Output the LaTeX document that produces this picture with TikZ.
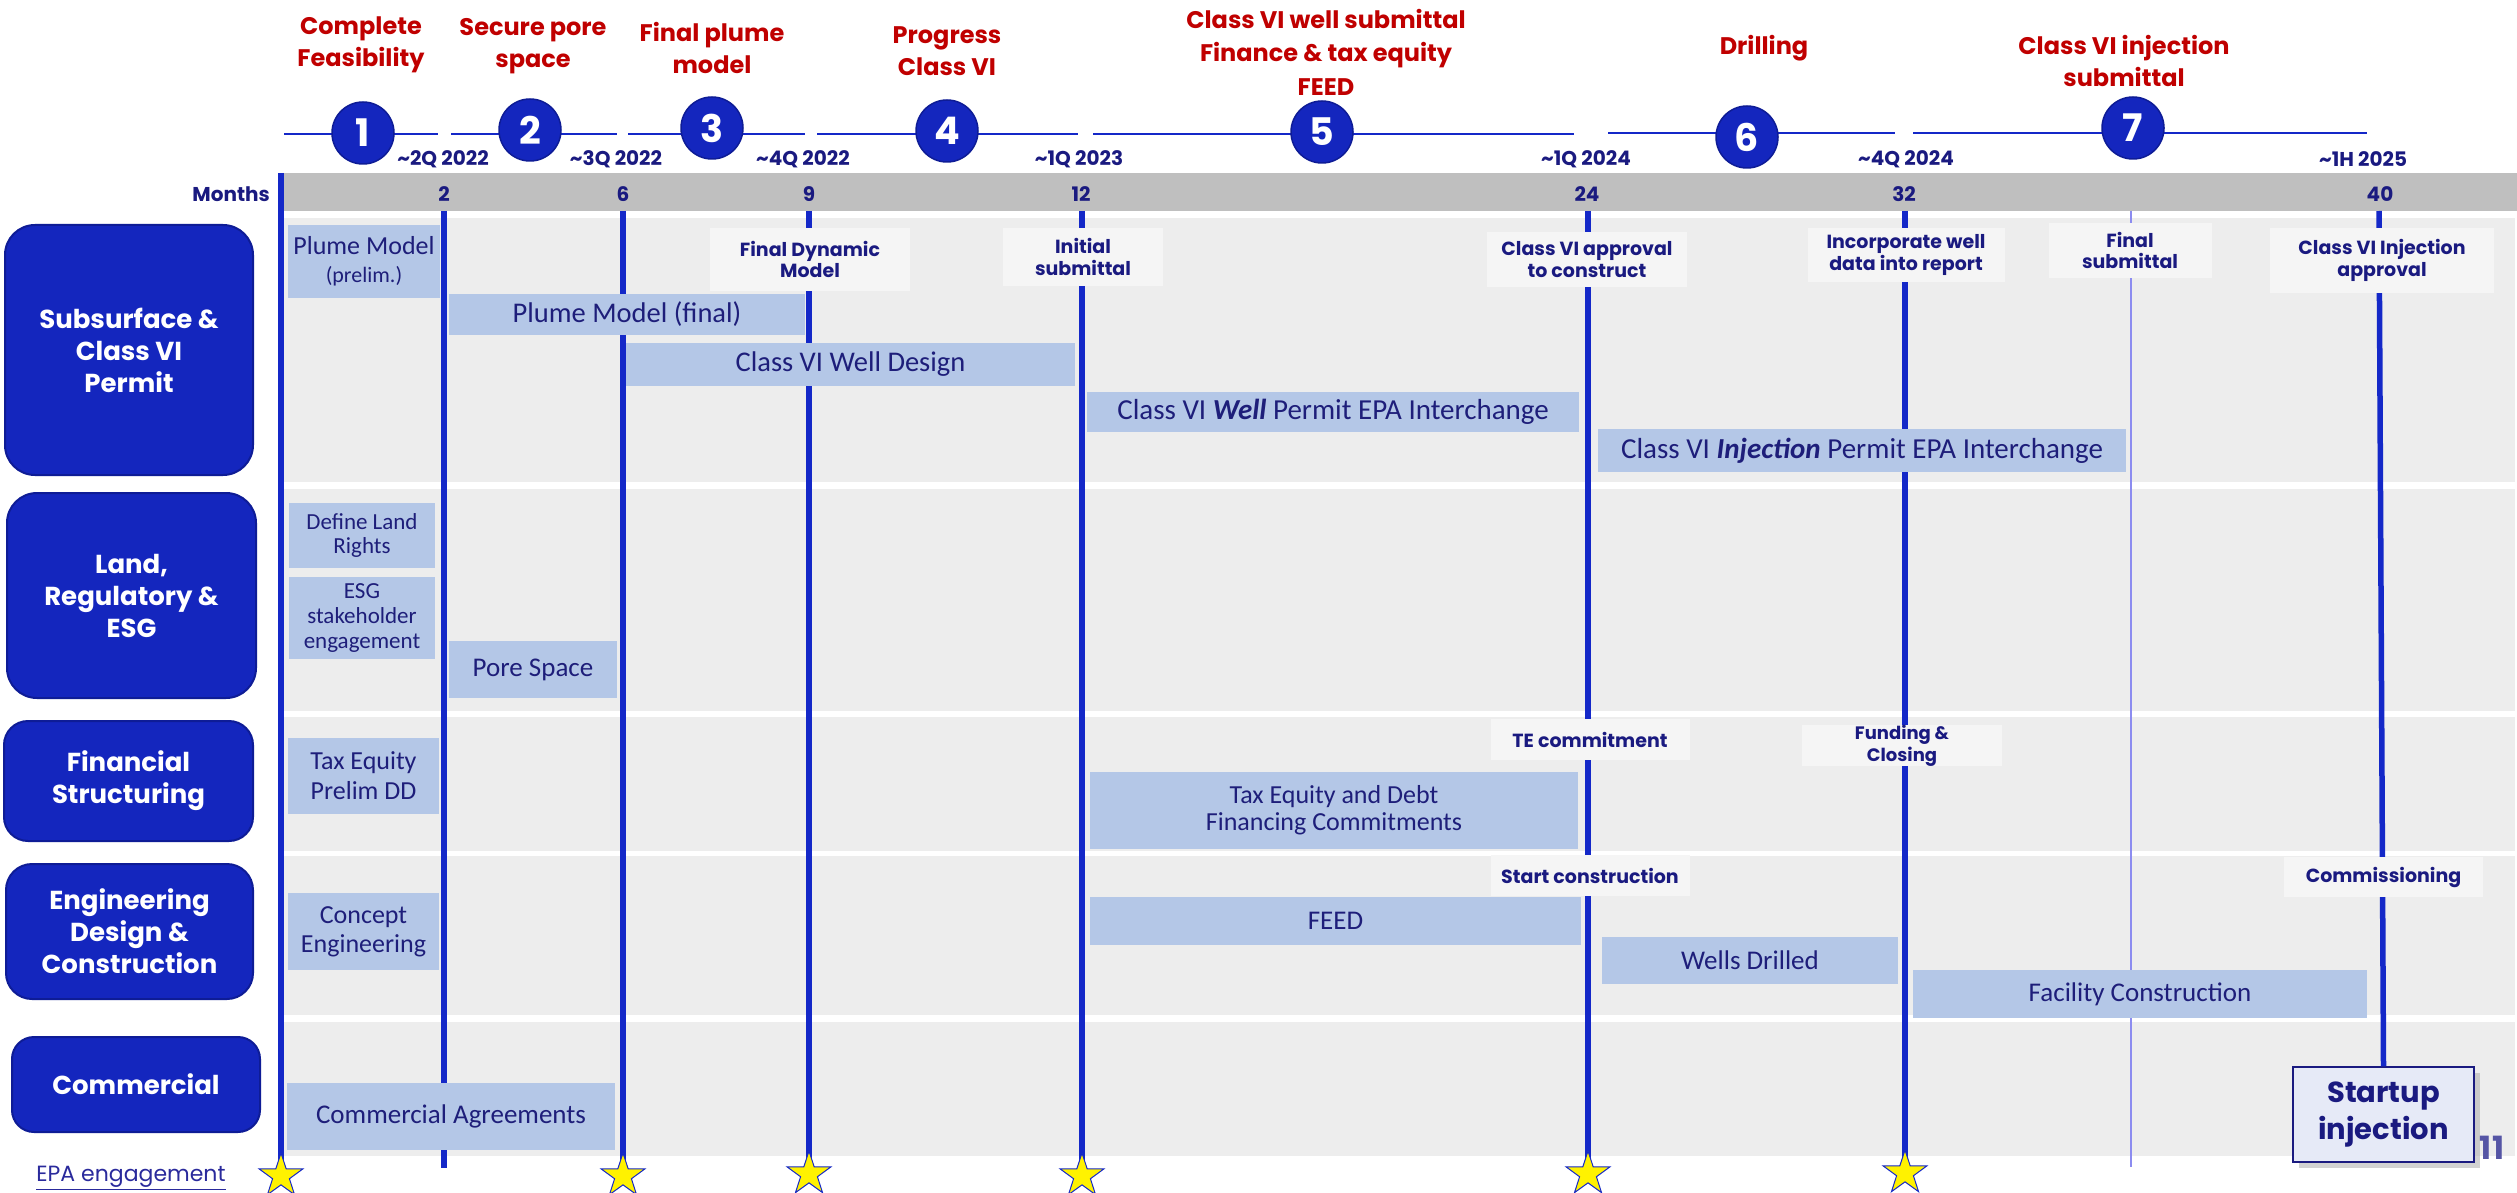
\documentclass[tikz,border=0pt]{standalone}
\usepackage{fontspec}
\setmainfont{Poppins}
\newfontfamily\barfont{Carlito}
\newfontfamily\lblfont{Poppins}
\usetikzlibrary{shapes.geometric,shadows}
\definecolor{lblblue}{HTML}{1426BE}
\definecolor{lblborder}{HTML}{0E1C96}
\definecolor{vline}{HTML}{1428C8}
\definecolor{barfill}{HTML}{B4C7E7}
\definecolor{bartext}{HTML}{1E1E7A}
\definecolor{navy}{HTML}{1A1A80}
\definecolor{rowbg}{HTML}{EDEDED}
\definecolor{msbg}{HTML}{F5F5F5}
\definecolor{bandgray}{HTML}{BFBFBF}
\definecolor{redt}{HTML}{C00000}
\definecolor{thinl}{HTML}{8C8CF0}
\definecolor{startfill}{HTML}{E6EAF7}
\definecolor{epablue}{HTML}{2A2A9C}
\definecolor{pagenum}{HTML}{5555A5}
\newcommand{\myfs}[2]{\fontsize{#1}{#2}\selectfont}
\begin{document}
\begin{tikzpicture}[x=1pt,y=-1pt,
  rowlbl/.style={draw=lblborder, line width=2pt, fill=lblblue, text=white, font=\lblfont\bfseries\myfs{26}{32}, align=center, inner sep=0pt, rounded corners=30pt},
  bar/.style={fill=barfill, text=bartext, font=\barfont\myfs{27}{28}, align=center, inner sep=0pt},
  ms/.style={fill=msbg, text=navy, font=\lblfont\bfseries\myfs{19}{21.5}, align=center, inner sep=0pt},
  ttl/.style={text=redt, font=\lblfont\bfseries\myfs{24}{32}, align=center, inner sep=0pt},
  numc/.style={circle, fill=lblblue, draw=lblborder, line width=1.5pt, minimum size=62pt, inner sep=0pt, text=white, font=\lblfont\bfseries\myfs{38}{38}},
  datel/.style={text=navy, font=\lblfont\bfseries\myfs{20}{20}, inner sep=0pt},
  mnum/.style={text=navy, font=\lblfont\bfseries\myfs{20}{20}, inner sep=0pt},
  vl/.style={draw=vline, line width=5.5pt},
  tl/.style={draw=vline, line width=2.5pt},
  mstar/.style={star, star points=5, star point ratio=2.6, fill=yellow, draw=vline, line width=1pt, minimum size=46pt, inner sep=0pt}
]
\useasboundingbox (0,0) rectangle (2517,1193);
\fill[white] (0,0) rectangle (2517,1193);

% row backgrounds and band
\fill[bandgray] (282,173) rectangle (2517,211);
\fill[rowbg] (284,218) rectangle (2515,482);
\fill[rowbg] (284,489) rectangle (2515,711);
\fill[rowbg] (284,717) rectangle (2515,851);
\fill[rowbg] (284,856) rectangle (2515,1015);
\fill[rowbg] (284,1022) rectangle (2515,1156);

% row labels
\node[rowlbl, minimum width=248pt, minimum height=250pt] (r1) at (129,350) {Subsurface \&\\Class VI\\Permit};
\node[rowlbl, minimum width=249pt, minimum height=205pt] (r2) at (131.5,595.5) {Land,\\Regulatory \&\\ESG};
\node[rowlbl, minimum width=249pt, minimum height=120pt, rounded corners=24pt] (r3) at (128.5,781) {Financial\\Structuring};
\node[rowlbl, minimum width=247pt, minimum height=135pt, rounded corners=26pt] (r4) at (129.5,931.5) {Engineering\\Design \&\\Construction};
\node[rowlbl, minimum width=248pt, minimum height=95pt, rounded corners=22pt] (r5) at (136,1084.5) {Commercial};

% top timeline segments
\coordinate (s1a) at (284,134); \coordinate (s1b) at (438,134);
\coordinate (s2a) at (451,134); \coordinate (s2b) at (617,134);
\coordinate (s3a) at (628,134); \coordinate (s3b) at (805,134);
\coordinate (s4a) at (817,134); \coordinate (s4b) at (1078,134);
\coordinate (s5a) at (1093,134); \coordinate (s5b) at (1574,134);
\coordinate (s6a) at (1608,133); \coordinate (s6b) at (1895,133);
\coordinate (s7a) at (1913,133); \coordinate (s7b) at (2367,133);
\draw[tl] (s1a) -- (s1b);
\draw[tl] (s2a) -- (s2b);
\draw[tl] (s3a) -- (s3b);
\draw[tl] (s4a) -- (s4b);
\draw[tl] (s5a) -- (s5b);
\draw[tl] (s6a) -- (s6b);
\draw[tl] (s7a) -- (s7b);
\node[numc] (c1) at (363,133) {1};
\node[numc] (c2) at (530,130) {2};
\node[numc] (c3) at (712,128) {3};
\node[numc] (c4) at (947,131) {4};
\node[numc] (c5) at (1322,132) {5};
\node[numc] (c6) at (1747,137) {6};
\node[numc] (c7) at (2133,128) {7};

% red titles
\node[ttl] (t1) at (361,45) {Complete\\Feasibility};
\node[ttl] (t2) at (533,46) {Secure pore\\space};
\node[ttl] (t3) at (712,48) {Final plume\\model};
\node[ttl] (t4) at (947,51) {Progress\\Class VI};
\node[ttl, font=\lblfont\bfseries\myfs{24}{33.5}] (t5) at (1326,52) {Class VI well submittal\\Finance \& tax equity\\FEED};
\node[ttl] (t6) at (1764,48) {Drilling};
\node[ttl] (t7) at (2124,61) {Class VI injection\\submittal};

% dates
\node[datel] (d1) at (443,159) {\textasciitilde 2Q 2022};
\node[datel] (d2) at (616,159) {\textasciitilde 3Q 2022};
\node[datel] (d3) at (803,159) {\textasciitilde 4Q 2022};
\node[datel] (d4) at (1079,159) {\textasciitilde 1Q 2023};
\node[datel] (d5) at (1586,159) {\textasciitilde 1Q 2024};
\node[datel] (d6) at (1906,159) {\textasciitilde 4Q 2024};
\node[datel] (d7) at (2363,159) {\textasciitilde 1H 2025};

% months band
\node[mnum, anchor=east] (mo) at (270,194) {Months};
\node[mnum] (n2) at (444,194) {2};
\node[mnum] (n6) at (623,194) {6};
\node[mnum] (n9) at (809,194) {9};
\node[mnum] (n12) at (1081,194) {12};
\node[mnum] (n24) at (1587,194) {24};
\node[mnum] (n32) at (1904,194) {32};
\node[mnum] (n40) at (2380,194) {40};

% line ends
\coordinate (v0t) at (281,173);
\coordinate (v2t) at (444,211); \coordinate (v2b) at (444,1168);
\coordinate (v6t) at (623,211);
\coordinate (v9t) at (809,211);
\coordinate (v12t) at (1082,211);
\coordinate (v24t) at (1588,211);
\coordinate (v32t) at (1905,211);
\coordinate (vtt) at (2131,211); \coordinate (vtb) at (2131,1167);
\coordinate (v40t) at (2379,211);

% startup box
\node[draw=navy, line width=1.5pt, fill=startfill, drop shadow={shadow xshift=6pt, shadow yshift=-6pt, fill=black!35}, minimum width=181pt, minimum height=95pt, inner sep=0pt, text=navy, font=\lblfont\bfseries\myfs{29}{37}, align=center] (su) at (2383.5,1114.5) {Startup\\injection};

% vertical lines (behind bars)
\coordinate (st0c) at (281,1176);
\coordinate (st6c) at (623,1176);
\coordinate (st9c) at (809,1174);
\coordinate (st12c) at (1082,1176);
\coordinate (st24c) at (1588,1174);
\coordinate (st32c) at (1905,1173);
\draw[vl] (v0t) -- (st0c);
\draw[vl] (v2t) -- (v2b);
\draw[vl] (v6t) -- (st6c);
\draw[vl] (v9t) -- (st9c);
\draw[vl] (v12t) -- (st12c);
\draw[vl] (v24t) -- (st24c);
\draw[vl] (v32t) -- (st32c);
\draw[thinl, line width=1.3pt] (vtt) -- (vtb);
\draw[vl] (v40t) -- (su.north);

% stars
\node[mstar] (st0) at (st0c) {};
\node[mstar] (st6) at (st6c) {};
\node[mstar] (st9) at (st9c) {};
\node[mstar] (st12) at (st12c) {};
\node[mstar] (st24) at (st24c) {};
\node[mstar] (st32) at (st32c) {};

% Row 1 bars
\node[bar, minimum width=152pt, minimum height=73pt] (b1) at (364,261.5) {{\myfs{26}{28}Plume Model}\\{\myfs{22}{28}(prelim.)}};
\node[bar, minimum width=356pt, minimum height=41pt, font=\barfont\myfs{28.5}{30}] (b2) at (627,314.5) {Plume Model (final)};
\node[bar, minimum width=449pt, minimum height=43pt, font=\barfont\myfs{28.5}{30}] (b3) at (850.5,364.5) {Class VI Well Design};
\node[bar, minimum width=492pt, minimum height=40pt, font=\barfont\myfs{29}{30}] (b4) at (1333,412) {Class VI \textbf{\textit{Well}} Permit EPA Interchange};
\node[bar, minimum width=528pt, minimum height=43pt, font=\barfont\myfs{29}{30}] (b5) at (1862,450.5) {Class VI \textbf{\textit{Injection}} Permit EPA Interchange};

% Row 1 milestones
\node[ms, minimum width=200pt, minimum height=63pt] (m1) at (810,259.5) {Final Dynamic\\Model};
\node[ms, minimum width=160pt, minimum height=58pt] (m2) at (1083,257) {Initial\\submittal};
\node[ms, minimum width=200pt, minimum height=55pt] (m3) at (1587,259.5) {Class VI approval\\to construct};
\node[ms, minimum width=197pt, minimum height=54pt] (m4) at (1906,255) {Incorporate well\\data into report};
\node[ms, minimum width=163pt, minimum height=55pt] (m5) at (2130,250.5) {Final\\submittal};
\node[ms, minimum width=224pt, minimum height=65pt] (m6) at (2382,260.5) {Class VI Injection\\approval};

% Row 2
\node[bar, minimum width=146pt, minimum height=65pt, font=\barfont\myfs{23}{24}] (b6) at (362,535.5) {Define Land\\Rights};
\node[bar, minimum width=146pt, minimum height=82pt, font=\barfont\myfs{23}{25}] (b7) at (362,618) {ESG\\stakeholder\\engagement};
\node[bar, minimum width=168pt, minimum height=57pt] (b8) at (533,669.5) {Pore Space};

% Row 3
\node[bar, minimum width=151pt, minimum height=76pt, font=\barfont\myfs{26}{30}] (b9) at (363.5,776) {Tax Equity\\Prelim DD};
\node[bar, minimum width=488pt, minimum height=77pt, font=\barfont\myfs{26}{27}] (b10) at (1334,810.5) {Tax Equity and Debt\\Financing Commitments};
\node[ms, minimum width=199pt, minimum height=41pt] (m7) at (1590,739.5) {TE commitment};
\node[ms, minimum width=200pt, minimum height=41pt, font=\lblfont\bfseries\myfs{18}{22}] (m8) at (1902,745.5) {Funding \&\\Closing};

% Row 4
\node[bar, minimum width=151pt, minimum height=77pt, font=\barfont\myfs{26}{29}] (b11) at (363.5,931.5) {Concept\\Engineering};
\node[bar, minimum width=491pt, minimum height=48pt] (b12) at (1335.5,921) {FEED};
\node[ms, minimum width=199pt, minimum height=41pt] (m9) at (1590,875.5) {Start construction};
\node[bar, minimum width=296pt, minimum height=47pt] (b13) at (1750,960.5) {Wells Drilled};
\node[bar, minimum width=454pt, minimum height=48pt] (b14) at (2140,994) {Facility Construction};
\node[ms, minimum width=199pt, minimum height=40pt] (m10) at (2383.5,877) {Commissioning};

% Row 5
\node[bar, minimum width=328pt, minimum height=67pt] (b15) at (451,1116.5) {Commercial Agreements};

% footer texts
\node[text=epablue, font=\lblfont\myfs{22}{24}, inner sep=0pt] (epa) at (131,1178) {\underline{EPA engagement}};
\node[text=pagenum, font=\lblfont\bfseries\myfs{32}{32}, inner sep=0pt] (pg) at (2492,1148) {11};
\end{tikzpicture}
\end{document}
